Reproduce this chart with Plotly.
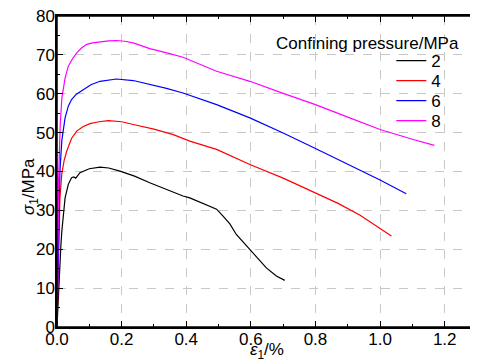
import plotly.graph_objects as go

# Confining pressure 2 MPa
x2 = [0, 0.004, 0.008, 0.012, 0.015, 0.02, 0.025, 0.035, 0.045, 0.052, 0.058, 0.071, 0.1, 0.133, 0.16, 0.195, 0.24, 0.287, 0.349, 0.39, 0.411, 0.45, 0.494, 0.514, 0.535, 0.555, 0.6, 0.648, 0.679, 0.705]
y2 = [0, 8, 15, 21, 24.7, 29.5, 33.2, 36.7, 38.4, 38.6, 38.3, 39.7, 40.7, 41.1, 40.9, 40.1, 38.8, 37.1, 35.0, 33.7, 33.2, 31.8, 30.3, 28.5, 26.5, 23.8, 19.5, 15.2, 13.1, 12.0]

# Confining pressure 4 MPa
x4 = [0, 0.003, 0.006, 0.009, 0.015, 0.022, 0.03, 0.045, 0.061, 0.08, 0.102, 0.13, 0.159, 0.2, 0.236, 0.3, 0.36, 0.411, 0.494, 0.597, 0.7, 0.8, 0.87, 0.937, 1.0, 1.035]
y4 = [0, 10, 22, 33.2, 39.5, 42.8, 45.2, 48.5, 50.4, 51.5, 52.3, 52.8, 53.1, 52.8, 52.1, 50.9, 49.5, 47.8, 45.7, 41.8, 38.3, 34.5, 31.8, 28.8, 25.3, 23.4]

# Confining pressure 6 MPa
x6 = [0, 0.003, 0.006, 0.009, 0.015, 0.025, 0.035, 0.045, 0.06, 0.081, 0.105, 0.133, 0.16, 0.184, 0.236, 0.29, 0.339, 0.39, 0.494, 0.597, 0.7, 0.8, 0.9, 1.0, 1.081]
y6 = [0, 15, 28, 40.1, 48, 53.8, 56.8, 58.5, 59.9, 61.1, 62.3, 63.2, 63.6, 63.8, 63.4, 62.4, 61.4, 60.2, 57.2, 53.8, 49.9, 45.9, 41.9, 37.8, 34.3]

# Confining pressure 8 MPa
x8 = [0, 0.002, 0.005, 0.01, 0.015, 0.025, 0.035, 0.048, 0.061, 0.075, 0.092, 0.11, 0.133, 0.16, 0.184, 0.21, 0.236, 0.287, 0.34, 0.39, 0.494, 0.597, 0.7, 0.8, 0.9, 1.0, 1.1, 1.168]
y8 = [0, 20, 38, 52, 58.9, 64, 67.1, 69.0, 70.5, 71.7, 72.7, 73.1, 73.4, 73.6, 73.7, 73.5, 73.1, 71.6, 70.5, 69.4, 65.8, 63.2, 60.1, 57.2, 54.0, 50.8, 48.3, 46.7]

series = [("2", x2, y2, "black"), ("4", x4, y4, "red"), ("6", x6, y6, "blue"), ("8", x8, y8, "magenta")]
legend_ids = ["legend", "legend2", "legend3", "legend4"]

FONT = "Liberation Sans, Arial"

fig = go.Figure()
for (name, xs, ys, col), lid in zip(series, legend_ids):
    fig.add_trace(go.Scatter(x=xs, y=ys, mode="lines", name=name, legend=lid,
                             line=dict(color=col, width=1.2)))

axis_common = dict(
    showline=True, linecolor="black", linewidth=1.5, mirror="ticks",
    ticks="inside", ticklen=6, tickwidth=1.2, tickcolor="black",
    showgrid=True, gridcolor="#c8c8c8", griddash="dash", gridwidth=1,
    zeroline=False, automargin=False, ticklabeloverflow="allow",
    tickfont=dict(family=FONT, size=17, color="black"),
)

fig.update_xaxes(range=[0, 1.3], dtick=0.2, tick0=0, tickformat=".1f",
                 ticklabelstandoff=-4,
                 minor=dict(dtick=0.1, ticks="inside", ticklen=3, tickcolor="black", showgrid=False),
                 **axis_common)
fig.update_yaxes(range=[0, 80], dtick=10, tick0=0,
                 ticklabelstandoff=-3,
                 minor=dict(dtick=5, ticks="inside", ticklen=3, tickcolor="black", showgrid=False),
                 **axis_common)

# plot frame
fig.add_shape(type="rect", xref="paper", yref="paper", x0=0, y0=0, x1=1, y1=1,
              line=dict(color="black", width=1.5), fillcolor="rgba(0,0,0,0)", layer="above")

# axis titles
fig.add_annotation(text="<i>ε</i><sub>1</sub>/%", xref="paper", yref="paper",
                   x=0.5, y=0, yshift=-24, xanchor="center", yanchor="middle", showarrow=False,
                   font=dict(family=FONT, size=17, color="black"))
fig.add_annotation(text="<i>σ</i><sub>1</sub>/MPa", xref="paper", yref="paper",
                   x=0, y=0.45, xshift=-27, xanchor="center", yanchor="middle", textangle=-90,
                   showarrow=False, font=dict(family=FONT, size=17, color="black"))

# legend title
fig.add_annotation(text="Confining pressure/MPa", xref="paper", yref="paper",
                   x=0.962, y=0.913, xanchor="right", yanchor="middle", showarrow=False,
                   font=dict(family=FONT, size=17, color="black"))

legend_y = [0.8553, 0.791, 0.7267, 0.6624]
leg_layout = {}
for lid, ly in zip(legend_ids, legend_y):
    leg_layout[lid] = dict(x=0.796, y=ly, xanchor="left", yanchor="middle",
                           bgcolor="rgba(0,0,0,0)",
                           font=dict(family=FONT, size=17, color="black"),
                           itemwidth=30)

fig.update_layout(
    width=470, height=353,
    margin=dict(l=49, r=1, t=8, b=34),
    paper_bgcolor="white", plot_bgcolor="white",
    showlegend=True,
    **leg_layout,
)

fig.write_html("out.html")
